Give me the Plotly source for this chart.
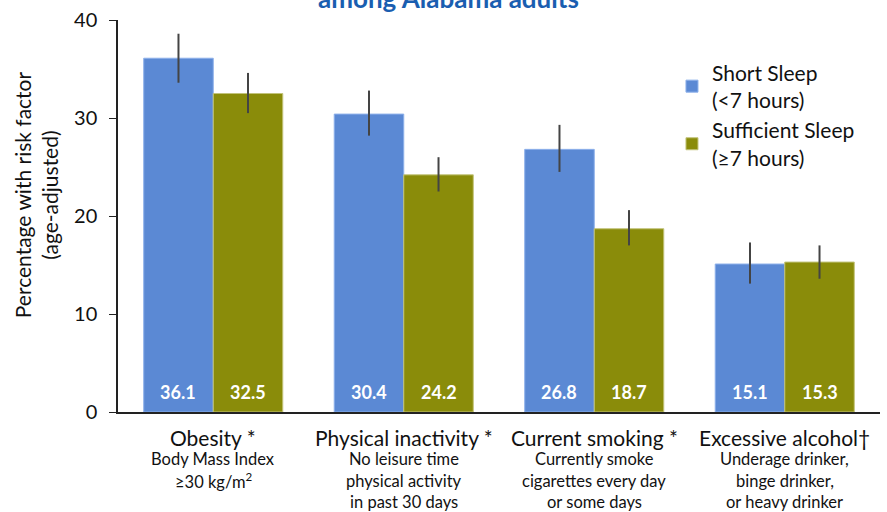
import plotly.graph_objects as go

categories = ["Obesity *", "Physical inactivity *", "Current smoking *", "Excessive alcohol\u2020"]
subtitles = [
    ["Body Mass Index", "\u226530 kg/m<sup>2</sup>"],
    ["No leisure time", "physical activity", "in past 30 days"],
    ["Currently smoke", "cigarettes every day", "or some days"],
    ["Underage drinker,", "binge drinker,", "or heavy drinker"],
]
short_sleep = [36.1, 30.4, 26.8, 15.1]
short_err_plus = [2.5, 2.4, 2.5, 2.2]
short_err_minus = [2.5, 2.2, 2.3, 2.0]
sufficient_sleep = [32.5, 24.2, 18.7, 15.3]
suff_err_plus = [2.1, 1.8, 1.9, 1.7]
suff_err_minus = [2.0, 1.7, 1.7, 1.7]
y_ticks = [0, 10, 20, 30, 40]

FONT = "Lato"
TEXT = "#111111"
BLUE = "#5B89D4"
OLIVE = "#8A8C0A"

fig = go.Figure()
fig.add_trace(go.Bar(
    name="Short Sleep<br>(<7 hours)", x=categories, y=short_sleep,
    marker=dict(color=BLUE, line=dict(color="#8DB0EA", width=1)),
    error_y=dict(type="data", symmetric=False, array=short_err_plus,
                 arrayminus=short_err_minus, color="#444444", thickness=2, width=0),
))
fig.add_trace(go.Bar(
    name="Sufficient Sleep<br>(\u22657 hours)", x=categories, y=sufficient_sleep,
    marker=dict(color=OLIVE, line=dict(color="#C2C37A", width=1)),
    error_y=dict(type="data", symmetric=False, array=suff_err_plus,
                 arrayminus=suff_err_minus, color="#444444", thickness=2, width=0),
))

annotations = []
for i, cat in enumerate(categories):
    # value labels at the base of each bar
    for off, vals in ((-0.183, short_sleep), (0.183, sufficient_sleep)):
        annotations.append(dict(
            x=i + off, y=2.0, xref="x", yref="y", text=f"<b>{vals[i]:.1f}</b>",
            showarrow=False, font=dict(family=FONT, size=18, color="white"),
        ))
    # category name below the axis
    annotations.append(dict(
        x=i, y=0, xref="x", yref="paper", yshift=-25, text=cat, showarrow=False,
        font=dict(family=FONT, size=21, color=TEXT), yanchor="middle",
    ))
    # description lines under the category name
    for j, line in enumerate(subtitles[i]):
        annotations.append(dict(
            x=i, y=0, xref="x", yref="paper", yshift=-(47 + 21.5 * j), text=line,
            showarrow=False, font=dict(family=FONT, size=16.5, color=TEXT),
            yanchor="middle",
        ))

# y-axis title
annotations.append(dict(
    x=0, y=0.553, xref="paper", yref="paper", xshift=-82, xanchor="center",
    yanchor="middle", text="Percentage with risk factor<br>(age-adjusted)",
    showarrow=False, textangle=-90, font=dict(family=FONT, size=21, color=TEXT),
))
# chart title (its first line sits above the visible page)
annotations.append(dict(
    x=0.434, y=1, xref="paper", yref="paper", yshift=4, yanchor="bottom",
    text="<b>among Alabama adults</b>", showarrow=False,
    font=dict(family=FONT, size=26, color="#1A5EB0"),
))

fig.update_layout(
    width=887, height=512,
    margin=dict(l=118, r=7, t=18, b=100),
    paper_bgcolor="white", plot_bgcolor="white",
    barmode="group", bargap=0.27, bargroupgap=0,
    showlegend=True,
    legend=dict(x=0.727, y=0.9175, xanchor="left", yanchor="top",
                font=dict(family=FONT, size=21, color=TEXT),
                bgcolor="rgba(0,0,0,0)", itemwidth=30),
    font=dict(family=FONT, color=TEXT),
    annotations=annotations,
)
fig.update_xaxes(showticklabels=False, ticks="", showline=True, linecolor="#222222",
                 linewidth=1.5, showgrid=False, zeroline=False)
fig.update_yaxes(range=[0, 40], tickvals=y_ticks, ticks="outside", ticklen=7,
                 tickcolor="#222222", showline=True, linecolor="#222222", linewidth=1.5,
                 showgrid=False, zeroline=False, ticklabelstandoff=8,
                 tickfont=dict(family=FONT, size=20, color=TEXT))

fig.write_html("out.html")
